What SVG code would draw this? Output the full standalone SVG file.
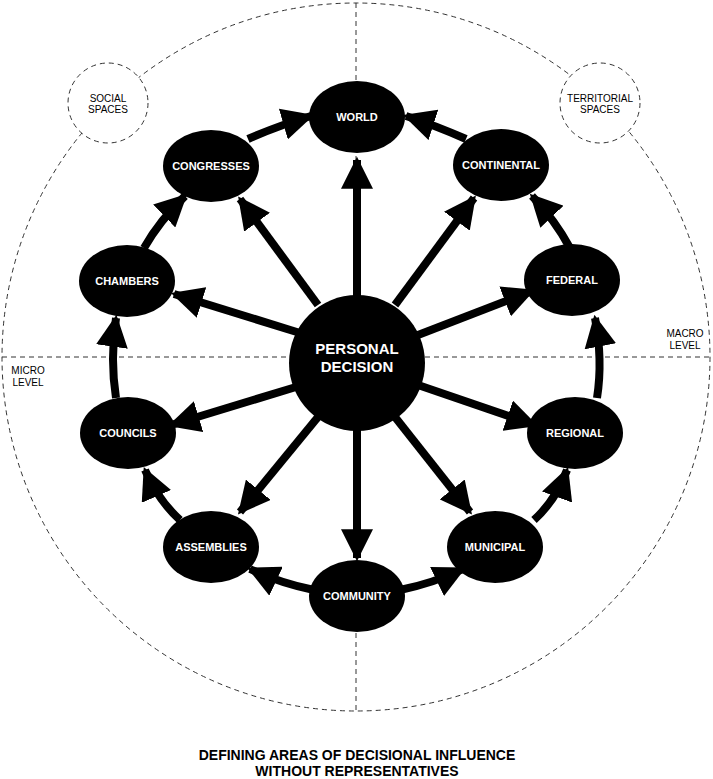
<svg xmlns="http://www.w3.org/2000/svg" width="713" height="779" viewBox="0 0 713 779">
<defs>
<marker id="ah" viewBox="0 0 10 10" refX="9" refY="5" markerWidth="4" markerHeight="4" orient="auto" markerUnits="strokeWidth"><path d="M0,0 L10,5 L0,10 z" fill="#000"/></marker>
<style>
.d{fill:none;stroke:#333;stroke-width:1;stroke-dasharray:5,4}
.a{fill:none;stroke:#000;stroke-width:8;marker-end:url(#ah)}
.n{fill:#000}
.t{font-family:"Liberation Sans",Arial,sans-serif;font-weight:bold;font-size:11px;fill:#fff;text-anchor:middle}
.s{font-family:"Liberation Sans",Arial,sans-serif;font-size:10px;fill:#000;text-anchor:middle}
</style>
</defs>
<rect width="713" height="779" fill="#fff"/>
<g id="guides">
<circle class="d" cx="356" cy="357" r="354"/>
<line class="d" x1="2" y1="357" x2="710" y2="357"/>
<line class="d" x1="356" y1="3" x2="356" y2="711"/>
</g>
<g id="social"><circle cx="108" cy="103" r="40" fill="#fff" stroke="#333" stroke-dasharray="5,4"/><text class="s" x="108" y="102">SOCIAL</text><text class="s" x="108" y="113">SPACES</text></g>
<g id="territorial"><circle cx="600" cy="103" r="40" fill="#fff" stroke="#333" stroke-dasharray="5,4"/><text class="s" x="600" y="102">TERRITORIAL</text><text class="s" x="600" y="113">SPACES</text></g>
<g id="macro"><text class="s" x="685" y="337">MACRO</text><text class="s" x="685" y="349">LEVEL</text></g>
<g id="micro"><text class="s" x="28" y="374">MICRO</text><text class="s" x="28" y="386">LEVEL</text></g>
<g id="connectors">
<line class="a" x1="357" y1="300" x2="357" y2="160"/>
<line class="a" x1="395" y1="305" x2="474" y2="198"/>
<line class="a" x1="418" y1="335" x2="532" y2="291"/>
<line class="a" x1="418" y1="385" x2="535" y2="425"/>
<line class="a" x1="395" y1="417" x2="470" y2="512"/>
<line class="a" x1="357" y1="430" x2="357" y2="558"/>
<line class="a" x1="318" y1="417" x2="240" y2="512"/>
<line class="a" x1="296" y1="387" x2="171" y2="425"/>
<line class="a" x1="300" y1="333" x2="174" y2="294"/>
<line class="a" x1="318" y1="305" x2="240" y2="199"/>
<path class="a" d="M314,590 Q280,583 250,569"/>
<path class="a" d="M400,590 Q434,583 463,569"/>
<path class="a" d="M180,520 Q158,500 145,470"/>
<path class="a" d="M534,520 Q556,500 567,470"/>
<path class="a" d="M116,398 Q110,360 116,318"/>
<path class="a" d="M597,398 Q603,360 595,318"/>
<path class="a" d="M144,248 Q160,220 185,196"/>
<path class="a" d="M570,248 Q555,220 532,196"/>
<path class="a" d="M248,139 Q280,125 311,116"/>
<path class="a" d="M466,139 Q434,125 406,116"/>
</g>
<g id="personal"><ellipse class="n" cx="357" cy="363" rx="68" ry="68"/><text class="t" style="font-size:15px" x="357" y="354">PERSONAL</text><text class="t" style="font-size:15px" x="357" y="372">DECISION</text></g>
<g id="world"><ellipse class="n" cx="357" cy="117" rx="48" ry="36"/><text class="t" x="357" y="121">WORLD</text></g>
<g id="continental"><ellipse class="n" cx="501" cy="165" rx="48" ry="36"/><text class="t" x="501" y="169">CONTINENTAL</text></g>
<g id="federal"><ellipse class="n" cx="572" cy="280" rx="48" ry="36"/><text class="t" x="572" y="284">FEDERAL</text></g>
<g id="regional"><ellipse class="n" cx="575" cy="433" rx="48" ry="36"/><text class="t" x="575" y="437">REGIONAL</text></g>
<g id="municipal"><ellipse class="n" cx="495" cy="547" rx="48" ry="36"/><text class="t" x="495" y="551">MUNICIPAL</text></g>
<g id="community"><ellipse class="n" cx="357" cy="596" rx="48" ry="36"/><text class="t" x="357" y="600">COMMUNITY</text></g>
<g id="assemblies"><ellipse class="n" cx="211" cy="547" rx="48" ry="36"/><text class="t" x="211" y="551">ASSEMBLIES</text></g>
<g id="councils"><ellipse class="n" cx="128" cy="433" rx="48" ry="36"/><text class="t" x="128" y="437">COUNCILS</text></g>
<g id="chambers"><ellipse class="n" cx="127" cy="281" rx="48" ry="36"/><text class="t" x="127" y="285">CHAMBERS</text></g>
<g id="congresses"><ellipse class="n" cx="211" cy="166" rx="48" ry="36"/><text class="t" x="211" y="170">CONGRESSES</text></g>
<g id="title"><text x="357" y="760" style="font-family:'Liberation Sans',Arial,sans-serif;font-weight:bold;font-size:14px;text-anchor:middle">DEFINING AREAS OF DECISIONAL INFLUENCE</text><text x="357" y="776" style="font-family:'Liberation Sans',Arial,sans-serif;font-weight:bold;font-size:14px;text-anchor:middle">WITHOUT REPRESENTATIVES</text></g>
</svg>
